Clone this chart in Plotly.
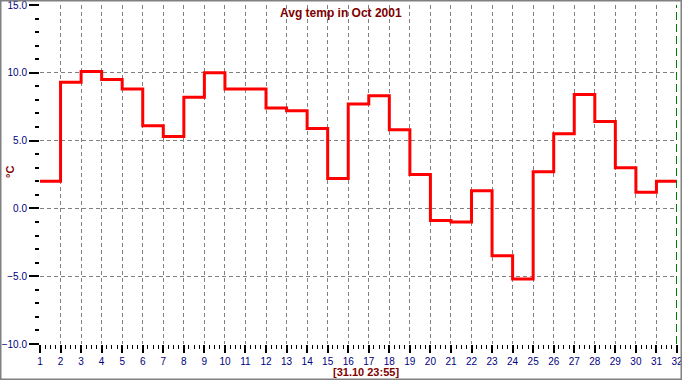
import plotly.graph_objects as go

# Data
days = list(range(1, 32))
avg_temp = [2.0, 9.3, 10.1, 9.5, 8.8, 6.1, 5.3, 8.2, 10.0, 8.8, 8.8, 7.4, 7.2, 5.9, 2.2,
            7.7, 8.3, 5.8, 2.5, -0.9, -1.0, 1.3, -3.5, -5.2, 2.7, 5.5, 8.4, 6.4, 3.0, 1.2, 2.0]
title_text = "Avg temp in Oct 2001"
y_label = "°C"
stamp_text = "[31.10 23:55]"
now_marker_day = 32
x_range = [1, 32]
y_range = [-10, 15]

# step line: each day's value held until the next day
step_x = days + [days[-1] + 1]
step_y = avg_temp + [avg_temp[-1]]

W, H = 682, 380
ML, MR, MT, MB = 40, 5, 5, 36
PW, PH = W - ML - MR, H - MT - MB

def px_x(p):
    return (p - ML) / PW

def px_y(p):
    return (H - MB - p) / PH

fig = go.Figure()
fig.add_trace(go.Scatter(x=step_x, y=step_y, mode="lines", line_shape="hv",
                         line=dict(color="#ff0000", width=3), hoverinfo="skip",
                         showlegend=False, cliponaxis=False))

tick_font = dict(family="Liberation Sans, Arial", size=10, color="#000080")
grid_dash = "4px,3px"

fig.update_layout(
    width=W, height=H, autosize=False,
    margin=dict(l=ML, r=MR, t=MT, b=MB, autoexpand=False),
    paper_bgcolor="white", plot_bgcolor="white",
    showlegend=False,
    xaxis=dict(range=x_range, tick0=1, dtick=1, showgrid=True, gridcolor="#808080",
               griddash=grid_dash, gridwidth=1, zeroline=False, showline=False,
               automargin=False, ticklabeloverflow="allow",
               ticks="outside", ticklen=8, tickwidth=2, tickcolor="black",
               tickfont=tick_font,
               minor=dict(dtick=0.25, tick0=1, ticks="outside", ticklen=4, tickwidth=1,
                          tickcolor="black", showgrid=False)),
    yaxis=dict(range=y_range, tick0=0, dtick=5, showgrid=True, gridcolor="#808080",
               griddash=grid_dash, gridwidth=1, zeroline=False, showline=False,
               automargin=False, ticklabeloverflow="allow",
               tickformat=".1f",
               ticks="outside", ticklen=10, tickwidth=2, tickcolor="black",
               tickfont=tick_font,
               minor=dict(dtick=1, ticks="outside", ticklen=4, tickwidth=2,
                          tickcolor="black", showgrid=False)),
)

# current-time marker
fig.add_shape(type="line", xref="x", yref="y", x0=now_marker_day, x1=now_marker_day,
              y0=y_range[0], y1=y_range[1],
              line=dict(color="#008000", width=2, dash="8px,4px"))

# outer frame
fig.add_shape(type="rect", xref="paper", yref="paper",
              x0=px_x(0.75), x1=px_x(W - 0.75), y0=px_y(H - 0.75), y1=px_y(0.75),
              line=dict(color="#808080", width=1.5), fillcolor="rgba(0,0,0,0)")

label_color = "#800000"
fig.add_annotation(text=title_text, xref="paper", yref="paper",
                   x=px_x(W / 2), y=px_y(13), xanchor="center", yanchor="middle",
                   showarrow=False,
                   font=dict(family="Liberation Sans, Arial", size=12, color=label_color,
                             weight="bold"))
fig.add_annotation(text=y_label, xref="paper", yref="paper",
                   x=px_x(10), y=px_y(172), xanchor="center", yanchor="middle",
                   textangle=-90, showarrow=False,
                   font=dict(family="Liberation Sans, Arial", size=11, color=label_color,
                             weight="bold"))
fig.add_annotation(text=stamp_text, xref="paper", yref="paper",
                   x=px_x(366), y=px_y(372), xanchor="center", yanchor="middle",
                   showarrow=False,
                   font=dict(family="Liberation Sans, Arial", size=11, color=label_color,
                             weight="bold"))

fig.write_html("out.html", config={"displayModeBar": False},
               post_script="document.body.style.margin='0';document.body.style.overflow='hidden';")
